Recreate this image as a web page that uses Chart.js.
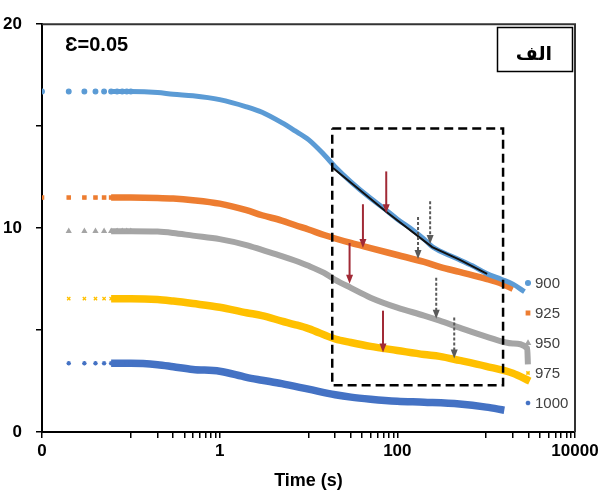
<!DOCTYPE html>
<html lang="en">
<head>
<meta charset="UTF-8">
<title>Time (s)</title>
<script src="https://cdn.jsdelivr.net/npm/chart.js"></script>
<style>
  html, body { margin: 0; padding: 0; background: #fff; }
  #wrap { position: relative; width: 608px; height: 497px; }
</style>
</head>
<body>
<div id="wrap"><canvas id="chart"></canvas></div>
<script>
// time (s) and values for each series
const t900 = [0.01, 0.02, 0.03, 0.04, 0.05, 0.06, 0.07, 0.08, 0.09, 0.1, 0.2, 0.3, 0.5, 1, 2, 3, 5, 7, 10, 15, 20, 30, 50, 70, 100, 150, 200, 250, 300, 500, 700, 1000, 1500, 2000, 2700];
const v900 = [16.7, 16.7, 16.7, 16.7, 16.7, 16.7, 16.7, 16.7, 16.7, 16.7, 16.65, 16.56, 16.49, 16.3, 15.95, 15.68, 15.17, 14.78, 14.34, 13.6, 13.0, 12.27, 11.46, 10.98, 10.44, 9.9, 9.46, 9.07, 8.88, 8.45, 8.15, 7.78, 7.48, 7.25, 6.88];

const t925 = [0.01, 0.02, 0.03, 0.04, 0.05, 0.06, 0.07, 0.08, 0.09, 0.1, 0.2, 0.3, 0.5, 1, 2, 3, 5, 7, 10, 15, 20, 30, 50, 100, 200, 300, 500, 1000, 1500, 2000];
const v925 = [11.5, 11.5, 11.5, 11.5, 11.5, 11.5, 11.5, 11.5, 11.5, 11.5, 11.48, 11.45, 11.37, 11.2, 10.88, 10.63, 10.37, 10.15, 9.93, 9.66, 9.49, 9.27, 9.02, 8.68, 8.34, 8.1, 7.85, 7.51, 7.27, 7.02];

const t950 = [0.02, 0.03, 0.04, 0.05, 0.06, 0.07, 0.08, 0.09, 0.1, 0.2, 0.3, 0.5, 1, 2, 3, 5, 7, 10, 15, 20, 30, 50, 100, 200, 300, 500, 1000, 2000, 2900, 2950];
const v950 = [9.85, 9.85, 9.85, 9.85, 9.85, 9.85, 9.85, 9.85, 9.85, 9.83, 9.76, 9.63, 9.46, 9.17, 8.93, 8.63, 8.41, 8.15, 7.8, 7.46, 7.07, 6.59, 6.1, 5.71, 5.46, 5.12, 4.68, 4.34, 4.1, 3.32];

const t975 = [0.02, 0.03, 0.04, 0.05, 0.06, 0.07, 0.08, 0.09, 0.1, 0.2, 0.3, 0.5, 1, 2, 3, 5, 7, 10, 20, 30, 50, 100, 200, 300, 500, 1000, 2000, 3100];
const v975 = [6.54, 6.54, 6.54, 6.54, 6.54, 6.54, 6.54, 6.54, 6.54, 6.5, 6.42, 6.3, 6.12, 5.85, 5.71, 5.44, 5.27, 5.07, 4.56, 4.39, 4.2, 4.0, 3.8, 3.71, 3.51, 3.22, 2.88, 2.49];

const t1000 = [0.02, 0.03, 0.04, 0.05, 0.06, 0.07, 0.08, 0.09, 0.1, 0.2, 0.3, 0.5, 1, 2, 3, 5, 10, 20, 30, 50, 100, 200, 500, 1000, 1600];
const v1000 = [3.37, 3.37, 3.37, 3.37, 3.37, 3.37, 3.37, 3.37, 3.37, 3.3, 3.2, 3.07, 2.98, 2.68, 2.54, 2.37, 2.1, 1.83, 1.71, 1.61, 1.51, 1.46, 1.37, 1.22, 1.07];

const seriesNames = ['900', '925', '950', '975', '1000'];

// fitted black line over the 900 curve
const fitT = [18.9, 75, 247, 500, 1026];
const fitV = [12.95, 10.8, 9.07, 8.45, 7.76];

// dashed rectangle (corners in data units)
const boxT = [18.5, 1550, 1550, 18.5, 18.5];
const boxV = [14.88, 14.88, 2.29, 2.29, 14.88];

// arrows: time, start value, tip value
const redArrowT = [75, 41, 29, 69];
const redArrowFrom = [12.78, 11.17, 9.27, 5.95];
const redArrowTo = [10.73, 9.02, 7.27, 3.9];
const grayArrowT = [234, 171, 274, 437];
const grayArrowFrom = [11.32, 10.54, 7.56, 5.61];
const grayArrowTo = [9.22, 8.49, 5.56, 3.61];

// axis ticks
const xTicks = [0.01, 0.1, 0.2, 0.3, 0.4, 0.5, 0.6, 0.7, 0.8, 0.9, 1, 10, 20, 30, 40, 50, 60, 70, 80, 90, 100, 1000, 2000, 3000, 4000, 5000, 6000, 7000, 8000, 9000, 10000];
const xLabelValues = [0.01, 1, 100, 10000];
const xLabelTexts = ['0', '1', '100', '10000'];
const yLabelValues = [0, 10, 20];

const colors = ['#5b9bd5', '#ed7d31', '#a5a5a5', '#ffc000', '#4472c4'];
const styles = ['circle', 'rect', 'triangle', 'crossRot', 'star'];
const widths = [5, 6.5, 6, 7.5, 7.5];

function pts(t, v) {
    return t.map((x, i) => ({ x: x, y: v[i] }));
}

const seriesData = [[t900, v900], [t925, v925], [t950, v950], [t975, v975], [t1000, v1000]];

const datasets = seriesData.map((s, i) => ({
    label: seriesNames[i],
    data: pts(s[0], s[1]),
    borderColor: colors[i],
    backgroundColor: colors[i],
    borderWidth: widths[i],
    pointStyle: styles[i],
    pointRadius: ctx => (ctx.raw && ctx.raw.x <= 0.1 ? 2.3 : 0),
    pointBorderWidth: 1.3,
    cubicInterpolationMode: 'monotone',
    segment: {
        borderColor: ctx => (ctx.p0.parsed.x < 0.06 ? 'rgba(0,0,0,0)' : undefined)
    },
    order: 2 + i
}));

datasets.push({
    label: 'fit',
    data: pts(fitT, fitV),
    borderColor: '#111',
    borderWidth: 2,
    pointRadius: 0,
    tension: 0,
    order: 1
});

datasets.push({
    label: 'box',
    data: pts(boxT, boxV),
    borderColor: '#000',
    borderWidth: 2.5,
    borderDash: [9, 5],
    pointRadius: 0,
    tension: 0,
    order: 0
});

const FONT = '"Liberation Sans", Arial, sans-serif';

function drawArrow(ctx, x, y1, y2, color, dash) {
    const head = 9;
    ctx.save();
    ctx.strokeStyle = color;
    ctx.fillStyle = color;
    ctx.lineWidth = 2;
    ctx.setLineDash(dash);
    ctx.beginPath();
    ctx.moveTo(x, y1);
    ctx.lineTo(x, y2 - head + 1);
    ctx.stroke();
    ctx.setLineDash([]);
    ctx.beginPath();
    ctx.moveTo(x - 3.5, y2 - head);
    ctx.lineTo(x + 3.5, y2 - head);
    ctx.lineTo(x, y2);
    ctx.closePath();
    ctx.fill();
    ctx.restore();
}

const extras = {
    id: 'extras',
    afterDatasetsDraw(chart) {
        const ctx = chart.ctx;
        const xs = chart.scales.x, ys = chart.scales.y;
        const a = chart.chartArea;

        redArrowT.forEach((t, i) => {
            drawArrow(ctx, xs.getPixelForValue(t), ys.getPixelForValue(redArrowFrom[i]),
                ys.getPixelForValue(redArrowTo[i]), '#a12a36', []);
        });
        grayArrowT.forEach((t, i) => {
            drawArrow(ctx, xs.getPixelForValue(t), ys.getPixelForValue(grayArrowFrom[i]),
                ys.getPixelForValue(grayArrowTo[i]), '#5a5a5a', [3, 2]);
        });

        // frame top / right
        ctx.save();
        ctx.strokeStyle = '#333';
        ctx.lineWidth = 2;
        ctx.beginPath();
        ctx.moveTo(a.left, a.top);
        ctx.lineTo(a.right, a.top);
        ctx.lineTo(a.right, a.bottom);
        ctx.stroke();

        // epsilon label
        ctx.fillStyle = '#000';
        ctx.font = 'bold 20px ' + FONT;
        ctx.textAlign = 'left';
        ctx.textBaseline = 'alphabetic';
        ctx.fillText('Ɛ=0.05', 65, 51);

        // panel label box
        ctx.lineWidth = 1.5;
        ctx.strokeStyle = '#000';
        ctx.strokeRect(497.5, 27.5, 75, 44);
        ctx.font = 'bold 19px "DejaVu Sans", sans-serif';
        ctx.textAlign = 'center';
        ctx.textBaseline = 'middle';
        ctx.fillText('الف', 534, 55);

        // legend
        ctx.font = '15px ' + FONT;
        ctx.textAlign = 'left';
        ctx.textBaseline = 'middle';
        seriesNames.forEach((name, i) => {
            const y = 283 + i * 30;
            ctx.fillStyle = colors[i];
            ctx.strokeStyle = colors[i];
            Chart.helpers.drawPoint(ctx, { pointStyle: styles[i], radius: 2.3, borderWidth: 1.3, rotation: 0 }, 528, y);
            ctx.fillStyle = '#404040';
            ctx.fillText(name, 535, y + 1);
        });
        ctx.restore();
    }
};

new Chart(document.getElementById('chart').getContext('2d'), {
    type: 'line',
    data: { datasets: datasets },
    options: {
        responsive: true,
        maintainAspectRatio: false,
        animation: false,
        layout: { padding: { top: 22, right: 33, left: 0, bottom: 0 } },
        plugins: {
            legend: { display: false },
            tooltip: { enabled: false }
        },
        scales: {
            x: {
                type: 'logarithmic',
                min: 0.01,
                max: 10000,
                afterBuildTicks: scale => { scale.ticks = xTicks.map(v => ({ value: v })); },
                afterFit: scale => { scale.height = 65; },
                ticks: {
                    autoSkip: false,
                    maxRotation: 0,
                    padding: 3,
                    color: '#000',
                    font: { family: FONT, size: 17, weight: 'bold' },
                    callback: v => {
                        const k = xLabelValues.findIndex(l => Math.abs(l - v) / l < 1e-6);
                        return k >= 0 ? xLabelTexts[k] : '';
                    }
                },
                grid: { drawOnChartArea: false, tickLength: 6, color: '#000', lineWidth: 1.5 },
                border: { color: '#000', width: 2 },
                title: {
                    display: true,
                    text: 'Time (s)',
                    color: '#000',
                    font: { family: FONT, size: 18, weight: 'bold' },
                    padding: { top: 0, bottom: 5 }
                }
            },
            y: {
                min: 0,
                max: 20,
                afterFit: scale => { scale.width = 42; },
                ticks: {
                    stepSize: 5,
                    padding: 14,
                    color: '#000',
                    font: { family: FONT, size: 17, weight: 'bold' },
                    callback: v => (yLabelValues.includes(v) ? String(v) : '')
                },
                grid: { drawOnChartArea: false, tickLength: 6, color: '#000', lineWidth: 1.5 },
                border: { color: '#000', width: 2 }
            }
        }
    },
    plugins: [extras]
});
</script>
</body>
</html>
